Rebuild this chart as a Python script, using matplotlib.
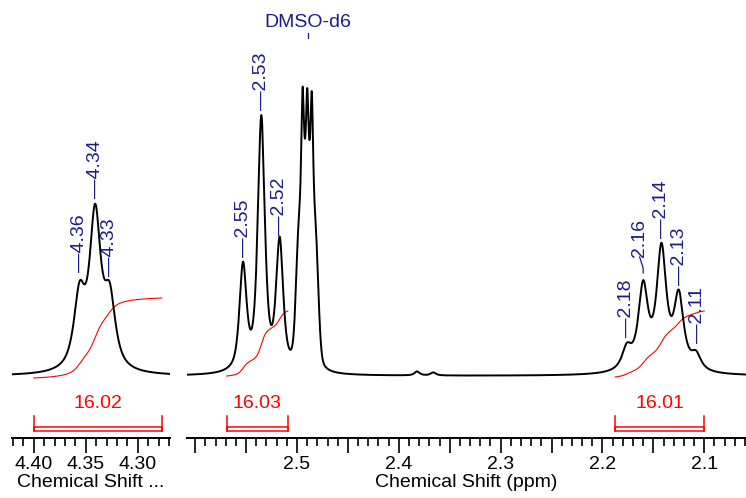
"""
1H NMR spectrum, two expansions (4.42-4.27 ppm and 2.61-2.06 ppm)
with peak picks, integrals and the DMSO-d6 solvent marker.
"""

import numpy as np
import matplotlib
matplotlib.use('Agg')
import matplotlib.pyplot as plt
from matplotlib.ticker import MultipleLocator
from matplotlib.patches import Rectangle

plt.rcParams['font.family'] = ['Liberation Sans', 'DejaVu Sans']

# ---------------------------------------------------------------------
# Data (intensity in arbitrary units, baseline = 0)
# ---------------------------------------------------------------------
# left multiplet (triplet around 4.34)
left_ppm = [4.356, 4.341, 4.327]
left_height = [71, 152, 67]
left_hwhm = [0.0065, 0.0065, 0.0065]
left_eta = [0.85, 0.85, 0.85]

# multiplet at 2.53
mid_ppm = [2.553, 2.535, 2.517]
mid_height = [104, 252, 127]
mid_hwhm = [0.0041, 0.0041, 0.0041]
mid_eta = [0.7, 0.7, 0.7]

# DMSO-d5 quintet: broad body + sharp tops
dmso_ppm = [2.4989, 2.4944, 2.4899, 2.4854, 2.4809]
dmso_height = [95, 150, 150, 150, 92]
dmso_hwhm = [0.0029, 0.0029, 0.0029, 0.0029, 0.0029]
dmso_eta = [0.3, 0.3, 0.3, 0.3, 0.3]
spike_ppm = [2.4944, 2.4899, 2.4854]
spike_height = [72, 58, 70]
spike_hwhm = [0.0012, 0.0012, 0.0012]
spike_eta = [0.5, 0.5, 0.5]

# small impurities around 2.37
small_ppm = [2.382, 2.366]
small_height = [4, 3]
small_hwhm = [0.003, 0.003]
small_eta = [0.8, 0.8]

# quintet at 2.14
right_ppm = [2.176, 2.160, 2.142, 2.125, 2.108]
right_height = [21, 82, 119, 72, 15]
right_hwhm = [0.0057, 0.0057, 0.0057, 0.0057, 0.0057]
right_eta = [0.9, 0.9, 0.9, 0.9, 0.9]

# peak labels: text, x (ppm), bottom of label (intensity units)
pick_left_text = ['4.36', '4.34', '4.33']
pick_left_ppm = [4.356, 4.341, 4.327]
pick_left_y = [104, 178, 100]

pick_right_text = ['2.55', '2.53', '2.52', '2.18', '2.14', '2.13', '2.11']
pick_right_ppm = [2.553, 2.535, 2.517, 2.176, 2.142, 2.124, 2.107]
pick_right_y = [119, 266, 141, 39, 138, 91, 33]

# 2.16 has a bent leader
bent_text = '2.16'
bent_peak_ppm = 2.160
bent_label_ppm = 2.1635
bent_y = [103, 119]

# integrals: ppm range, start level, rise, value
int_left = dict(start=4.400, stop=4.277, y0=-2, rise=80, value='16.02')
int_mid = dict(start=2.569, stop=2.509, y0=0, rise=65, value='16.03')
int_right = dict(start=2.1875, stop=2.100, y0=-1, rise=66, value='16.01')

solvent_text = 'DMSO-d6'
solvent_ppm = 2.4895

# axes
left_xlim = (4.421, 4.269)
right_xlim = (2.608, 2.059)
left_ticks = [4.40, 4.35, 4.30]
left_ticklabels = ['4.40', '4.35', '4.30']
right_ticks = [2.5, 2.4, 2.3, 2.2, 2.1]
right_ticklabels = ['2.5', '2.4', '2.3', '2.2', '2.1']

NAVY = '#1c1c8c'
RED = '#ff0000'
FS = 14


def pseudo_voigt(x, centers, heights, hwhm, eta):
    y = np.zeros_like(x)
    for c, h, w, e in zip(centers, heights, hwhm, eta):
        u = (x - c) / w
        y += h * (e / (1 + u ** 2) + (1 - e) * np.exp(-np.log(2) * u ** 2))
    return y


def draw_integral(ax, x, y, info):
    lo, hi = min(info['start'], info['stop']), max(info['start'], info['stop'])
    m = (x >= lo) & (x <= hi)
    xs = x[m][::-1]          # high ppm -> low ppm
    ys = y[m][::-1]
    c = np.cumsum(ys)
    c = (c - c[0]) / (c[-1] - c[0])
    ax.plot(xs, info['y0'] + info['rise'] * c, color=RED, lw=0.8, zorder=2)

    # bracket under the peak
    ax.add_patch(Rectangle((lo, -55), hi - lo, 4, fill=False,
                           edgecolor=RED, lw=1.1, zorder=3))
    for xv in (lo, hi):
        ax.plot([xv, xv], [-55, -40], color=RED, lw=1.1, zorder=3)
    ax.text((lo + hi) / 2, -27, info['value'], color=RED, fontsize=FS,
            ha='center', va='center')


def draw_picks(ax, texts, xs, ys):
    for t, xv, yv in zip(texts, xs, ys):
        ax.text(xv, yv, '\u2014' + t, rotation=90, ha='center', va='bottom',
                color=NAVY, fontsize=FS)


def style_axis(ax, xlim, ticks, ticklabels):
    ax.set_xlim(*xlim)
    ax.set_ylim(-62, 376)
    for s in ('top', 'left', 'right'):
        ax.spines[s].set_visible(False)
    ax.spines['bottom'].set_linewidth(1.4)
    ax.set_yticks([])
    # long ticks every 0.05, labelled ones from the list
    lo, hi = min(xlim), max(xlim)
    majors = np.arange(np.ceil(lo / 0.05) * 0.05, hi + 1e-9, 0.05)
    labels = []
    for v in majors:
        lab = ''
        for t, tl in zip(ticks, ticklabels):
            if abs(v - t) < 1e-6:
                lab = tl
        labels.append(lab)
    ax.set_xticks(majors)
    ax.set_xticklabels(labels)
    ax.xaxis.set_minor_locator(MultipleLocator(0.01))
    ax.tick_params(axis='x', which='major', length=11, width=1.2,
                   labelsize=FS, pad=2)
    ax.tick_params(axis='x', which='minor', length=6, width=1.2)
    ax.set_xlim(*xlim)
    ax.patch.set_alpha(0)


fig = plt.figure(figsize=(7.46, 4.98), dpi=100)
bottom = 60 / 498
height = 438 / 498
ax_l = fig.add_axes([12 / 746, bottom, 158 / 746, height])
ax_r = fig.add_axes([187 / 746, bottom, 559 / 746, height])

# ---- left panel
xl = np.linspace(left_xlim[1], left_xlim[0], 3000)
yl = pseudo_voigt(xl, left_ppm, left_height, left_hwhm, left_eta)
ax_l.plot(xl, yl, color='black', lw=1.4, zorder=4)
draw_integral(ax_l, xl, yl, int_left)
draw_picks(ax_l, pick_left_text, pick_left_ppm, pick_left_y)
style_axis(ax_l, left_xlim, left_ticks, left_ticklabels)
ax_l.set_xlabel('Chemical Shift ...', fontsize=FS, labelpad=1)

# ---- right panel
xr = np.linspace(right_xlim[1], right_xlim[0], 15000)
yr = (pseudo_voigt(xr, mid_ppm, mid_height, mid_hwhm, mid_eta)
      + pseudo_voigt(xr, dmso_ppm, dmso_height, dmso_hwhm, dmso_eta)
      + pseudo_voigt(xr, spike_ppm, spike_height, spike_hwhm, spike_eta)
      + pseudo_voigt(xr, small_ppm, small_height, small_hwhm, small_eta)
      + pseudo_voigt(xr, right_ppm, right_height, right_hwhm, right_eta))
ax_r.plot(xr, yr, color='black', lw=1.4, zorder=4)
draw_integral(ax_r, xr, yr, int_mid)
draw_integral(ax_r, xr, yr, int_right)
draw_picks(ax_r, pick_right_text, pick_right_ppm, pick_right_y)

ax_r.plot([bent_peak_ppm, bent_peak_ppm, bent_label_ppm],
          [bent_y[0], bent_y[0] + 5, bent_y[1]], color=NAVY, lw=0.9)
ax_r.text(bent_label_ppm, bent_y[1], bent_text, rotation=90, ha='center',
          va='bottom', color=NAVY, fontsize=FS)

ax_r.text(solvent_ppm, 354, solvent_text, ha='center', va='center',
          color=NAVY, fontsize=FS)
ax_r.plot([solvent_ppm, solvent_ppm], [338, 343], color=NAVY, lw=0.9)

style_axis(ax_r, right_xlim, right_ticks, right_ticklabels)
ax_r.set_xlabel('Chemical Shift (ppm)', fontsize=FS, labelpad=1)

fig.savefig('out.png', dpi=100)
